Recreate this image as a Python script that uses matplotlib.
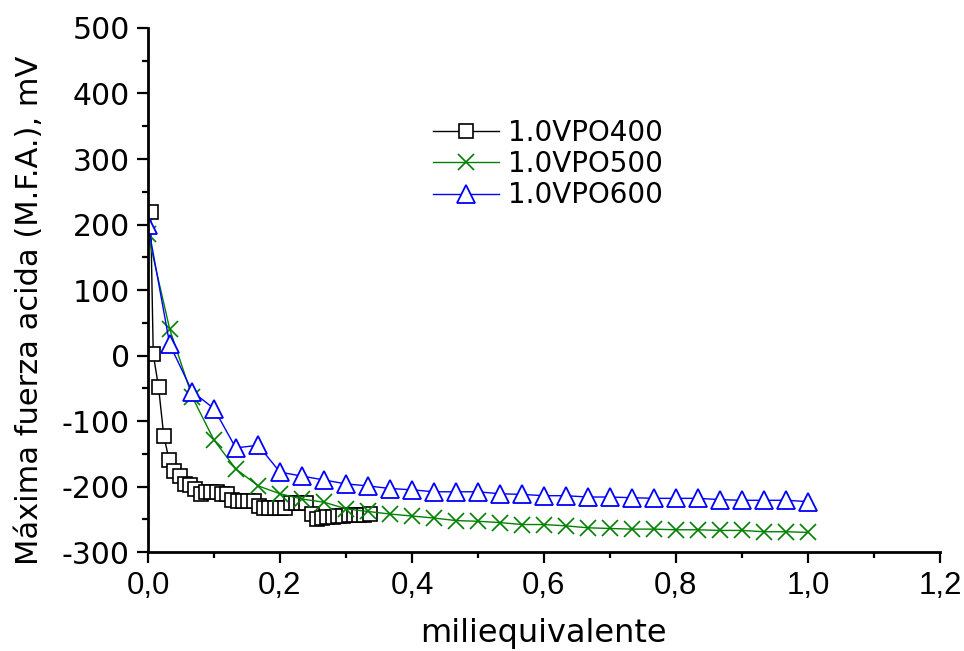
import matplotlib
matplotlib.use("Agg")
import matplotlib.pyplot as plt
from matplotlib.ticker import MultipleLocator, FuncFormatter

# 1.0VPO400 (black squares)
x400 = [0.004, 0.008, 0.016, 0.024, 0.032, 0.040, 0.048, 0.056, 0.064, 0.072,
        0.080, 0.088, 0.096, 0.104, 0.112, 0.120, 0.128, 0.136, 0.144, 0.152,
        0.160, 0.168, 0.176, 0.184, 0.192, 0.200, 0.208, 0.216, 0.224, 0.232,
        0.240, 0.248, 0.256, 0.264, 0.272, 0.280, 0.288, 0.296, 0.304, 0.312,
        0.320, 0.328, 0.336]
y400 = [219, 2, -48, -123, -159, -176, -184, -196, -198, -204,
        -211, -208, -208, -208, -211, -211, -220, -222, -222, -222,
        -222, -230, -232, -233, -233, -233, -233, -225, -225, -225,
        -225, -242, -250, -248, -246, -246, -245, -245, -244, -244,
        -243, -243, -242]

# 1.0VPO500 and 1.0VPO600 share the same x grid
x_meq = [0.0, 0.033, 0.067, 0.1, 0.133, 0.167, 0.2, 0.233, 0.267, 0.3,
         0.333, 0.367, 0.4, 0.433, 0.467, 0.5, 0.533, 0.567, 0.6, 0.633,
         0.667, 0.7, 0.733, 0.767, 0.8, 0.833, 0.867, 0.9, 0.933, 0.967, 1.0]
y500 = [185, 40, -63, -129, -173, -199, -211, -219, -224, -234,
        -238, -242, -245, -248, -252, -253, -255, -258, -258, -260,
        -263, -264, -265, -265, -266, -266, -267, -267, -269, -269, -270]
y600 = [200, 17, -55, -81, -141, -137, -178, -184, -190, -196,
        -199, -203, -205, -208, -208, -208, -211, -212, -214, -214,
        -216, -216, -217, -218, -218, -218, -220, -221, -221, -221, -223]

plt.rcParams['font.family'] = ['DejaVu Sans']
plt.rcParams['axes.unicode_minus'] = False

fig = plt.figure(figsize=(9.64, 6.51), dpi=100)
ax = fig.add_axes([0.1535, 0.152, 0.8215, 0.805])

ax.plot(x400, y400, color='black', lw=1, marker='s', ms=9.5,
        mfc='white', mec='black', mew=1.2, label='1.0VPO400')
ax.plot(x_meq, y500, color='green', lw=1, marker='x', ms=12,
        mec='green', mew=1.2, label='1.0VPO500')
ax.plot(x_meq, y600, color='blue', lw=1, marker='^', ms=13,
        mfc='white', mec='blue', mew=1.3, label='1.0VPO600')

ax.set_xlim(0, 1.2)
ax.set_ylim(-300, 500)

for side in ['top', 'right']:
    ax.spines[side].set_visible(False)
for side in ['left', 'bottom']:
    ax.spines[side].set_linewidth(2)

ax.xaxis.set_major_locator(MultipleLocator(0.2))
ax.xaxis.set_minor_locator(MultipleLocator(0.1))
ax.yaxis.set_major_locator(MultipleLocator(100))
ax.yaxis.set_minor_locator(MultipleLocator(50))
ax.xaxis.set_major_formatter(FuncFormatter(lambda v, p: f"{v:.1f}".replace('.', ',')))

ax.tick_params(which='major', direction='out', length=8, width=1.6)
ax.tick_params(which='minor', direction='out', length=4, width=1.6)
ax.tick_params(axis='y', labelsize=21.5, pad=5)
ax.tick_params(axis='x', labelsize=22.5, pad=6)
for lab in ax.get_xticklabels():
    lab.set_fontfamily('Liberation Sans')

ax.set_xlabel('miliequivalente', fontsize=23, labelpad=12)
ax.set_ylabel('Máxima fuerza acida (M.F.A.), mV', fontsize=22)
ax.yaxis.set_label_coords(-0.131, 0.462)

ax.legend(loc='upper left', bbox_to_anchor=(0.335, 0.864), frameon=False,
          fontsize=20, handlelength=2.4, handletextpad=0.3, labelspacing=0.12,
          borderpad=0.2)

plt.savefig('out.png', dpi=100)
